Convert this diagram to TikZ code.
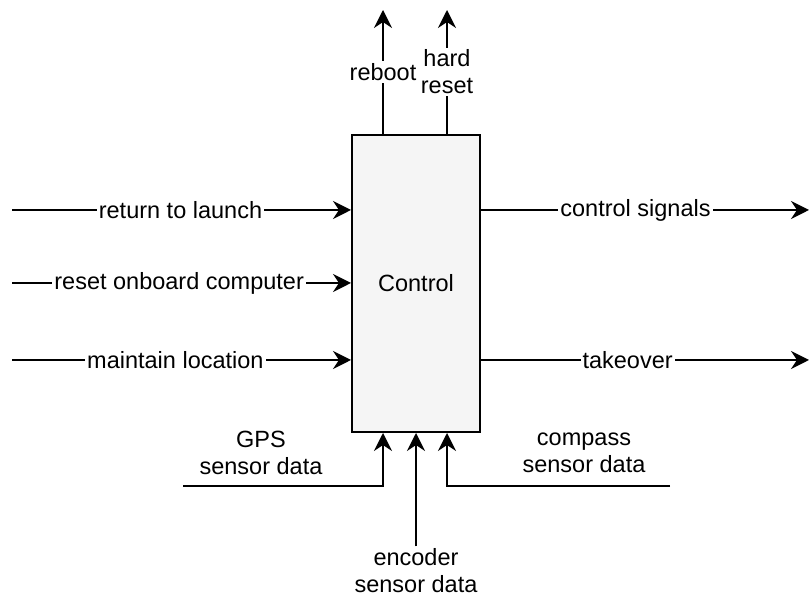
\documentclass[tikz,border=0pt]{standalone}
\usepackage{fontspec}
\setmainfont{Liberation Sans}
\usetikzlibrary{arrows.meta}
\definecolor{boxfill}{HTML}{F5F5F5}
\begin{document}
\begin{tikzpicture}[x=0.5pt,y=-0.5pt,
  every node/.style={font=\fontsize{11.75}{13.5}\selectfont},
  flow/.style={line width=1pt, -{Stealth[length=9pt,width=9pt,inset=3pt]}},
  lbl/.style={fill=white, inner sep=1pt, align=center},
  side/.style={inner sep=1pt, align=center},
  blk/.style={draw, line width=1pt, fill=boxfill, minimum width=64pt, minimum height=148.5pt, inner sep=0pt}]
\useasboundingbox (0,0) rectangle (809,597);
\node[blk] (ctrl) at (416,283.5) {Control};
% inputs from the left
\coordinate (inA) at (12,210);
\coordinate (inB) at (12,283);
\coordinate (inC) at (12,360);
\draw[flow] (inA) -- (inA -| ctrl.west) node[lbl, pos=0.497] (lA) {return to launch};
\draw[flow] (inB) -- (inB -| ctrl.west) node[lbl, pos=0.493] (lB) {reset onboard computer};
\draw[flow] (inC) -- (inC -| ctrl.west) node[lbl, pos=0.482] (lC) {maintain location};
% outputs to the right
\coordinate (outA) at (809,210);
\coordinate (outB) at (809,360);
\draw[flow] (outA -| ctrl.east) -- (outA) node[lbl, pos=0.471] (lD) {control signals};
\draw[flow] (outB -| ctrl.east) -- (outB) node[lbl, pos=0.447] (lE) {takeover};
% outputs to the top
\coordinate (upA) at (383,10);
\coordinate (upB) at (447,10);
\draw[flow] (upA |- ctrl.north) -- (upA) node[lbl, pos=0.5] (lF) {reboot};
\draw[flow] (upB |- ctrl.north) -- (upB) node[lbl, pos=0.5] (lG) {hard\\reset};
% inputs from below
\coordinate (gps) at (183,486);
\coordinate (gpsin) at (383,0);
\coordinate (cmp) at (670,486);
\coordinate (cmpin) at (447,0);
\draw[flow] (gps) -| (gpsin |- ctrl.south);
\draw[flow] (cmp) -| (cmpin |- ctrl.south);
\node[side] (lH) at (261,453) {GPS\\sensor data};
\node[side] (lI) at (584,453) {compass\\sensor data};
\node[side] (enc) at (416,571) {encoder\\sensor data};
\draw[flow] (enc.north) -- (enc.north |- ctrl.south);
\end{tikzpicture}
\end{document}
